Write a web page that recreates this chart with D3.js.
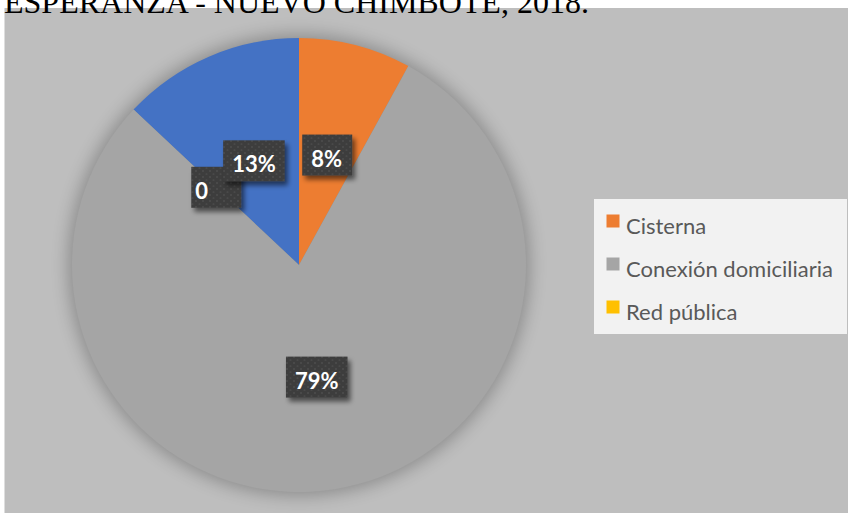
<!DOCTYPE html>
<html>
<head>
<meta charset="utf-8">
<script src="https://cdn.jsdelivr.net/npm/d3@7"></script>
<style>
  html, body { margin: 0; padding: 0; background: #ffffff; }
  svg { display: block; }
</style>
</head>
<body>
<svg id="chart" width="849" height="513"></svg>
<script>
// Water supply type shares
const categories = ["", "Cisterna", "Conexión domiciliaria", "Red pública"];
const values = [13, 8, 79, 0];
const labels = ["13%", "8%", "79%", "0"];
const colors = ["#4472c4", "#ed7d31", "#a5a5a5", "#ffc000"];
const legendItems = ["Cisterna", "Conexión domiciliaria", "Red pública"];
const titleText = "ESPERANZA - NUEVO CHIMBOTE, 2018.";

const W = 849, H = 513;
const svg = d3.select("#chart");
const defs = svg.append("defs");

// soft halo behind the pie
const halo = defs.append("filter").attr("id", "halo")
  .attr("x", "-20%").attr("y", "-20%").attr("width", "140%").attr("height", "140%");
halo.append("feGaussianBlur").attr("stdDeviation", 9);

// drop shadow for the data label boxes
const boxShadow = defs.append("filter").attr("id", "boxShadow")
  .attr("x", "-30%").attr("y", "-30%").attr("width", "160%").attr("height", "160%");
boxShadow.append("feGaussianBlur").attr("in", "SourceAlpha").attr("stdDeviation", 2.5).attr("result", "b");
boxShadow.append("feOffset").attr("in", "b").attr("dx", 3).attr("dy", 4).attr("result", "o");
boxShadow.append("feComponentTransfer").attr("in", "o").attr("result", "s")
  .append("feFuncA").attr("type", "linear").attr("slope", 0.55);
const bm = boxShadow.append("feMerge");
bm.append("feMergeNode").attr("in", "s");
bm.append("feMergeNode").attr("in", "SourceGraphic");

// dotted texture for label boxes
const pat = defs.append("pattern").attr("id", "dots")
  .attr("width", 7).attr("height", 6).attr("patternUnits", "userSpaceOnUse");
pat.append("rect").attr("width", 7).attr("height", 6).attr("fill", "#3d3d3d");
pat.append("circle").attr("cx", 2).attr("cy", 2).attr("r", 1.1).attr("fill", "#4a4a4a");
pat.append("circle").attr("cx", 5.5).attr("cy", 5).attr("r", 1.1).attr("fill", "#484848");

// chart area background
svg.append("rect")
  .attr("x", 4.5).attr("y", 8).attr("width", 843.5).attr("height", H - 8)
  .attr("fill", "#bebebe");

// title (runs off the top edge)
svg.append("text")
  .attr("x", 4).attr("y", 13)
  .attr("font-family", "'Liberation Serif', 'Times New Roman', serif")
  .attr("font-size", 32)
  .attr("fill", "#000")
  .text(titleText);

// pie
const cx = 299, cy = 265, R = 227;
const startDeg = -(values[0] / d3.sum(values)) * 360;
const pie = d3.pie().sort(null)
  .startAngle(startDeg * Math.PI / 180)
  .endAngle((startDeg + 360) * Math.PI / 180);
const arcs = pie(values);
const arc = d3.arc().innerRadius(0).outerRadius(R);

const g = svg.append("g").attr("transform", `translate(${cx},${cy})`);
g.append("circle").attr("r", R + 3).attr("fill", "#000").attr("opacity", 0.28)
  .attr("filter", "url(#halo)");
g.selectAll("path.slice").data(arcs).enter().append("path")
  .attr("class", "slice")
  .attr("d", arc)
  .attr("fill", (d, i) => colors[i]);

// data labels; the zero-value label is drawn first so the neighbouring one overlaps it
const labelFont = "Lato, 'Open Sans', sans-serif";
const labelLayer = g.append("g").attr("class", "labels");
const order = d3.range(arcs.length).sort((a, b) => (values[a] === 0 ? 0 : 1) - (values[b] === 0 ? 0 : 1));
order.forEach(i => {
  const d = arcs[i];
  const sel = labelLayer.append("g").attr("class", "lbl");
  const [x, y] = arc.centroid(d);
  const t = sel.append("text")
    .attr("font-family", labelFont).attr("font-weight", 700)
    .attr("font-size", 22).attr("fill", "#ffffff")
    .text(labels[i]);
  const tw = t.node().getComputedTextLength();
  const bw = Math.max(tw + 18, 50), bh = 41;
  sel.insert("rect", "text")
    .attr("x", x - bw / 2).attr("y", y - bh / 2)
    .attr("width", bw).attr("height", bh)
    .attr("fill", "url(#dots)")
    .attr("filter", "url(#boxShadow)");
  t.attr("x", x - bw / 2 + (values[i] === 0 ? 4 : 9)).attr("y", y + 11.5);
});

// legend
const leg = svg.append("g");
leg.append("rect").attr("x", 594).attr("y", 199).attr("width", 253).attr("height", 135)
  .attr("fill", "#f2f2f2");
const rowY = d3.scalePoint().domain(legendItems).range([234, 320]);
legendItems.forEach(name => {
  const i = categories.indexOf(name);
  leg.append("rect").attr("x", 606.5).attr("y", rowY(name) - 19.5)
    .attr("width", 13).attr("height", 13).attr("fill", colors[i]);
  leg.append("text").attr("x", 626).attr("y", rowY(name))
    .attr("font-family", labelFont).attr("font-size", 22)
    .attr("fill", "#595959").text(name);
});
</script>
</body>
</html>
